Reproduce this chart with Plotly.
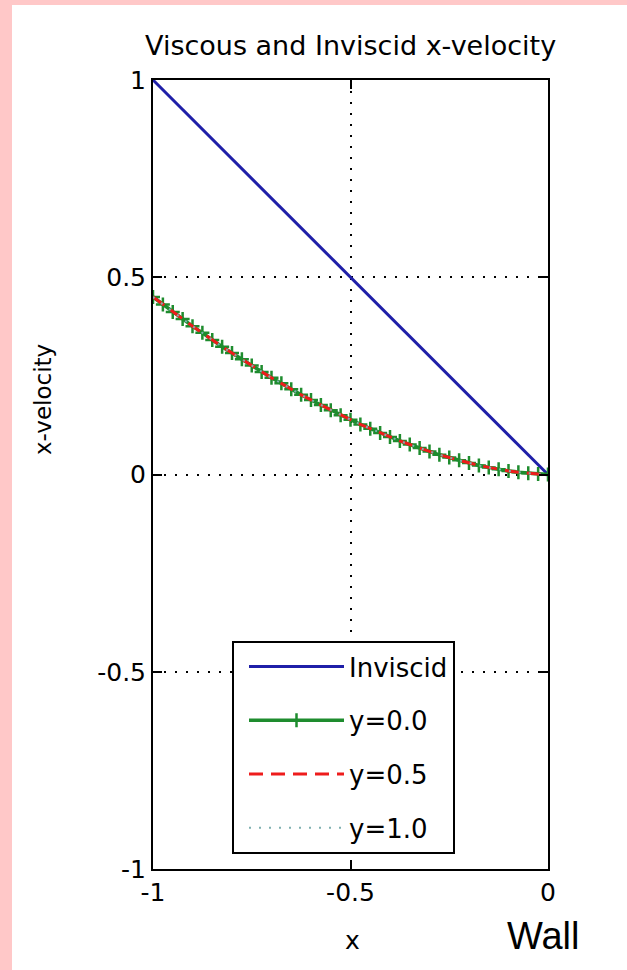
import plotly.graph_objects as go

# ---- data ----
x_inviscid = [-1.0, 0.0]
u_inviscid = [1.0, 0.0]

x_visc = [-1.0, -0.975, -0.95, -0.925, -0.9, -0.875, -0.85, -0.825, -0.8, -0.775,
          -0.75, -0.725, -0.7, -0.675, -0.65, -0.625, -0.6, -0.575, -0.55, -0.525,
          -0.5, -0.475, -0.45, -0.425, -0.4, -0.375, -0.35, -0.325, -0.3, -0.275,
          -0.25, -0.225, -0.2, -0.175, -0.15, -0.125, -0.1, -0.075, -0.05, -0.025, 0.0]
u_y00 = [0.450, 0.431, 0.412, 0.394, 0.376, 0.359, 0.341, 0.324, 0.308, 0.292,
         0.276, 0.260, 0.245, 0.231, 0.216, 0.202, 0.189, 0.176, 0.163, 0.150,
         0.139, 0.127, 0.116, 0.105, 0.095, 0.085, 0.076, 0.067, 0.058, 0.050,
         0.043, 0.036, 0.029, 0.023, 0.018, 0.013, 0.009, 0.0055, 0.003, 0.001, 0.0]
u_y05 = [0.450, 0.431, 0.412, 0.394, 0.376, 0.359, 0.341, 0.324, 0.308, 0.292,
         0.276, 0.260, 0.245, 0.231, 0.216, 0.202, 0.189, 0.176, 0.163, 0.150,
         0.139, 0.127, 0.116, 0.105, 0.095, 0.085, 0.076, 0.067, 0.058, 0.050,
         0.043, 0.036, 0.029, 0.023, 0.018, 0.013, 0.009, 0.0055, 0.003, 0.001, 0.0]
u_y10 = [0.450, 0.431, 0.412, 0.394, 0.376, 0.359, 0.341, 0.324, 0.308, 0.292,
         0.276, 0.260, 0.245, 0.231, 0.216, 0.202, 0.189, 0.176, 0.163, 0.150,
         0.139, 0.127, 0.116, 0.105, 0.095, 0.085, 0.076, 0.067, 0.058, 0.050,
         0.043, 0.036, 0.029, 0.023, 0.018, 0.013, 0.009, 0.0055, 0.003, 0.001, 0.0]

x_ticks = [-1, -0.5, 0]
x_ticklabels = ["-1", "-0.5", "0"]
y_ticks = [-1, -0.5, 0, 0.5, 1]
y_ticklabels = ["-1", "-0.5", "0", "0.5", "1"]

title_text = "Viscous and Inviscid x-velocity"
xlabel = "x"
ylabel = "x-velocity"
wall_text = "Wall"

FONT = "DejaVu Sans"
PINK = "#FFC8C8"
GREEN = "#1e8c2e"

fig = go.Figure()
fig.add_trace(go.Scatter(x=x_inviscid, y=u_inviscid, mode="lines", name="Inviscid",
                         legendgroup="a",
                         line=dict(color="#1f1fa8", width=3)))
fig.add_trace(go.Scatter(x=x_visc, y=u_y00, mode="lines+markers", name="y=0.0",
                         legendgroup="b",
                         line=dict(color=GREEN, width=3.5),
                         marker=dict(symbol="cross-thin", size=10,
                                     line=dict(color=GREEN, width=2.5))))
fig.add_trace(go.Scatter(x=x_visc, y=u_y05, mode="lines", name="y=0.5",
                         legendgroup="c",
                         line=dict(color="#ee1c1c", width=3, dash="14px,8px")))
fig.add_trace(go.Scatter(x=x_visc, y=u_y10, mode="lines", name="y=1.0",
                         legendgroup="d",
                         line=dict(color="#7fb0b0", width=2, dash="2px,8px")))

L, R, T, B = 153, 79, 80, 101
W = 627 - L - R
H = 970 - T - B

def px_x(p):
    return (p - L) / W

def px_y(p):
    return (970 - B - p) / H

# pink frame strips (left and top)
fig.add_shape(type="rect", xref="paper", yref="paper",
              x0=px_x(-5), x1=px_x(12), y0=px_y(975), y1=px_y(-5),
              fillcolor=PINK, line_width=0, layer="below")
fig.add_shape(type="rect", xref="paper", yref="paper",
              x0=px_x(-5), x1=px_x(632), y0=px_y(5), y1=px_y(-5),
              fillcolor=PINK, line_width=0, layer="below")

axis_common = dict(
    showline=True, linecolor="black", linewidth=2, mirror="ticks",
    ticks="inside", ticklen=9, tickwidth=1.5, tickcolor="black",
    showgrid=True, gridcolor="black", gridwidth=1.5, griddash="2px,9px",
    zeroline=False,
    tickfont=dict(family=FONT, size=25, color="black"),
)

fig.update_xaxes(range=[-1, 0], tickvals=x_ticks, ticktext=x_ticklabels, **axis_common)
fig.update_yaxes(range=[-1, 1], tickvals=y_ticks, ticktext=y_ticklabels, **axis_common)

fig.add_annotation(text=title_text, xref="paper", yref="paper",
                   x=px_x(350), y=px_y(45), xanchor="center", yanchor="middle",
                   showarrow=False, font=dict(family=FONT, size=27, color="black"))
fig.add_annotation(text=ylabel, xref="paper", yref="paper", textangle=-90,
                   x=px_x(43), y=px_y(400), xanchor="center", yanchor="middle",
                   showarrow=False, font=dict(family=FONT, size=23, color="black"))
fig.add_annotation(text=xlabel, xref="paper", yref="paper",
                   x=px_x(352), y=px_y(940), xanchor="center", yanchor="middle",
                   showarrow=False, font=dict(family=FONT, size=25, color="black"))
fig.add_annotation(text=wall_text, xref="paper", yref="paper",
                   x=px_x(543), y=px_y(936), xanchor="center", yanchor="middle",
                   showarrow=False, font=dict(family="Liberation Sans", size=38, color="black"))

fig.update_layout(
    width=627, height=970,
    margin=dict(l=L, r=R, t=T, b=B),
    paper_bgcolor="white", plot_bgcolor="white",
    showlegend=True,
    legend=dict(x=px_x(232), y=px_y(641), xanchor="left", yanchor="top",
                bordercolor="black", borderwidth=2, bgcolor="white",
                font=dict(family=FONT, size=26, color="black"),
                indentation=10,
                itemwidth=95, traceorder="grouped", tracegroupgap=17),
)

fig.write_html("out.html")
